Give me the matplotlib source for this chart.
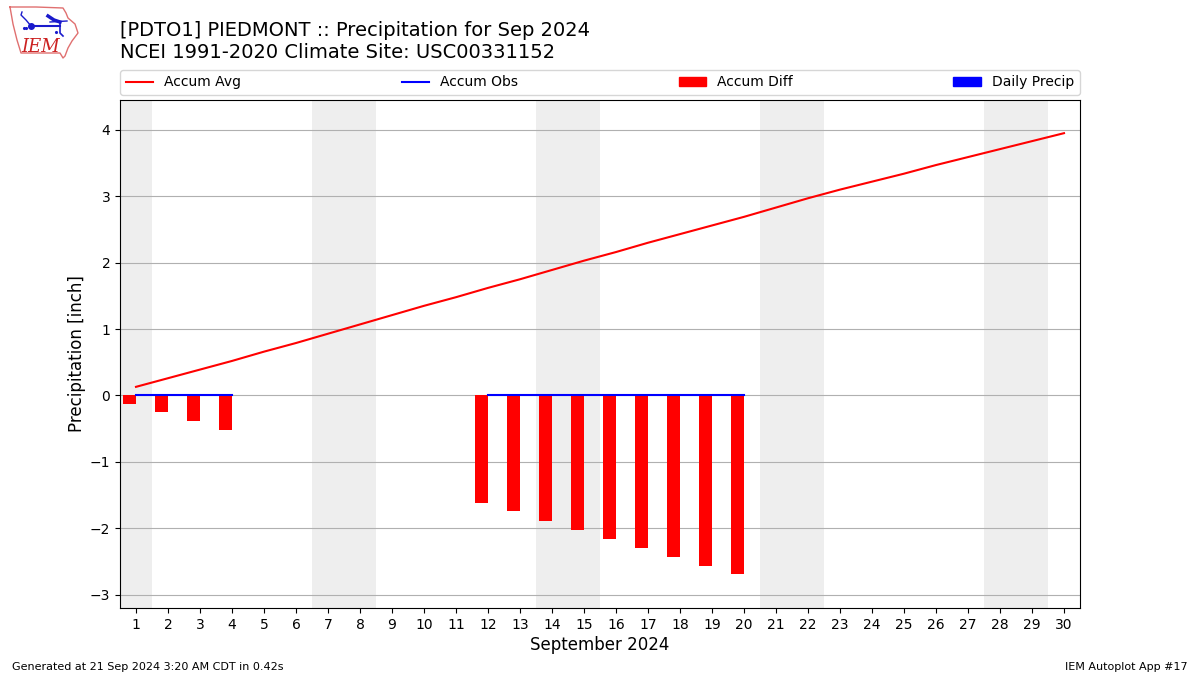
import matplotlib
matplotlib.use("Agg")
import matplotlib.pyplot as plt
from matplotlib.patches import Rectangle

days = list(range(1, 31))
accum_avg = [0.13, 0.26, 0.39, 0.52, 0.66, 0.79, 0.93, 1.07, 1.21, 1.35, 1.48, 1.62, 1.75, 1.89, 2.03, 2.16, 2.30, 2.43, 2.56, 2.69, 2.83, 2.97, 3.10, 3.22, 3.34, 3.47, 3.59, 3.71, 3.83, 3.95]
obs_days = [1, 2, 3, 4, 12, 13, 14, 15, 16, 17, 18, 19, 20]
accum_obs = [0.0] * 13
accum_diff = [-0.13, -0.25, -0.39, -0.52, -1.62, -1.74, -1.89, -2.03, -2.16, -2.30, -2.43, -2.57, -2.69]
daily_precip = [0.0] * 13
weekend_spans = [(0.5, 1.5), (6.5, 8.5), (13.5, 15.5), (20.5, 22.5), (27.5, 29.5)]
yticks = [-3, -2, -1, 0, 1, 2, 3, 4]
ytick_labels = ["\u22123", "\u22122", "\u22121", "0", "1", "2", "3", "4"]

fig = plt.figure(figsize=(12, 6.75), dpi=100)
ax = fig.add_axes([0.1, 0.0993, 0.8, 0.7526])

for a, b in weekend_spans:
    ax.axvspan(a, b, color="#eeeeee", zorder=0, lw=0)
ax.grid(axis="y", color="#b0b0b0", lw=0.8, zorder=1)
ax.set_axisbelow(True)

line1, = ax.plot(days, accum_avg, color="red", lw=1.5, label="Accum Avg", zorder=3)
line2, = ax.plot(obs_days[:4], accum_obs[:4], color="blue", lw=1.5, label="Accum Obs", zorder=4)
ax.plot(obs_days[4:], accum_obs[4:], color="blue", lw=1.5, zorder=4)
bars = ax.bar(obs_days, accum_diff, width=0.4, align="edge", color="red", label="Accum Diff", zorder=2)
for r in bars:
    r.set_x(r.get_x() - 0.4)
b2 = ax.bar(obs_days, daily_precip, width=0.4, color="blue", label="Daily Precip", zorder=2)

ax.set_xlim(0.5, 30.5)
ax.set_ylim(-3.2, 4.45)
ax.set_xticks(days)
ax.set_yticks(yticks)
ax.set_yticklabels(ytick_labels)
ax.tick_params(labelsize=10)
ax.set_xlabel("September 2024", fontsize=12, labelpad=3.2)
ax.set_ylabel("Precipitation [inch]", fontsize=12, labelpad=3)

ax.legend(handles=[line1, line2, Rectangle((0, 0), 1, 1, color="red"), Rectangle((0, 0), 1, 1, color="blue")],
          labels=["Accum Avg", "Accum Obs", "Accum Diff", "Daily Precip"],
          ncol=4, mode="expand", loc="lower left", bbox_to_anchor=(0, 1.0098, 1, 0.05),
          fontsize=10, borderaxespad=0, handlelength=2.0, handletextpad=0.8)

fig.text(0.1, 0.9085, "[PDTO1] PIEDMONT :: Precipitation for Sep 2024\nNCEI 1991-2020 Climate Site: USC00331152",
         fontsize=14, va="bottom", ha="left", linespacing=1.2)
fig.text(0.01, 0.0046, "Generated at 21 Sep 2024 3:20 AM CDT in 0.42s", fontsize=8, va="bottom")
fig.text(0.99, 0.0046, "IEM Autoplot App #17", fontsize=8, va="bottom", ha="right")

# IEM logo approximation, drawn in pixels of the reference's corner
logo = fig.add_axes([0, 1 - 70 / 675, 130 / 1200, 70 / 675])
logo.set_xlim(0, 130)
logo.set_ylim(70, 0)
logo.axis("off")
logo_x = [10, 36, 63, 66, 68, 75, 78, 72, 68, 65, 63, 60, 21, 17, 13, 10]
logo_y = [7, 7, 8, 13, 18, 24, 33, 41, 48, 56, 58, 53, 53, 40, 24, 7]
logo.plot(logo_x, logo_y, color="#e07070", lw=1.0)
blue = "#1a1acc"
logo.plot([32, 60], [26, 26], color=blue, lw=1.5)
logo.plot([22, 21, 26, 31], [12, 15, 20, 26], color=blue, lw=1.0)
logo.plot([31], [26], marker="o", ms=4, color=blue)
logo.plot([48, 54, 60], [16, 20, 22], color=blue, lw=2.5)
logo.plot([50, 67], [22, 21], color=blue, lw=1.0)
logo.plot([60, 60, 63], [22, 33, 36], color=blue, lw=1.2)
logo.plot([56, 24, 26], [32, 28, 28], color=blue, lw=0, marker=".", ms=2.5)
logo.text(21, 52, "IEM", color="#cc2222", fontsize=13, family="DejaVu Serif", style="italic")

fig.savefig("out.png", dpi=100)
